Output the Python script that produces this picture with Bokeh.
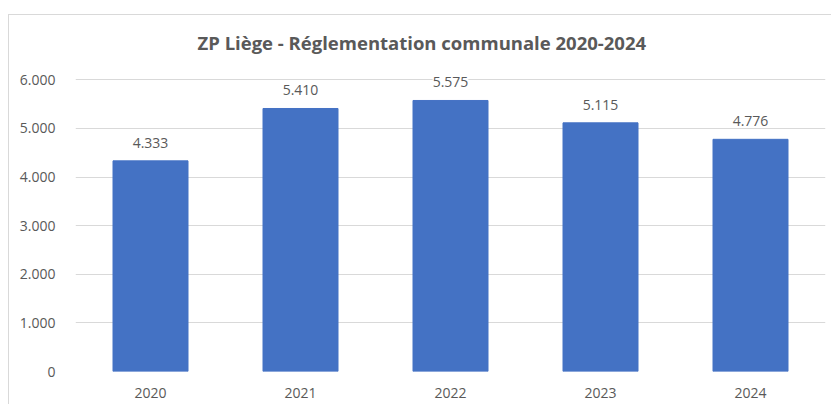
from bokeh.plotting import figure
from bokeh.models import ColumnDataSource, LabelSet, FixedTicker, CustomJSTickFormatter, Range1d
from bokeh.core.properties import value
from bokeh.embed import file_html
from bokeh.resources import INLINE

years = ["2020", "2021", "2022", "2023", "2024"]
values = [4333, 5410, 5575, 5115, 4776]
y_ticks = [0, 1000, 2000, 3000, 4000, 5000, 6000]
title_text = "ZP Liège - Réglementation communale  2020-2024"

labels = [f"{v:,}".replace(",", ".") for v in values]
src = ColumnDataSource(dict(x=years, top=values, lab=labels))

FONT = "Open Sans"
GREY = "#595959"

p = figure(x_range=years, y_range=Range1d(0, 6500), width=823, height=390,
           output_backend="svg", toolbar_location=None,
           min_border_left=66, min_border_right=7, min_border_top=40, min_border_bottom=34,
           title=title_text)
p.styles = {"margin-top": "14px", "margin-left": "8px",
            "border-top": "1px solid #d9d9d9", "border-left": "1px solid #d9d9d9"}
p.outline_line_color = None
p.background_fill_color = "white"
p.border_fill_color = "white"

p.title.align = "left"
p.title.text_font = FONT
p.title.text_font_size = "18.5px"
p.title.text_font_style = "bold"
p.title.text_color = GREY
p.title.standoff = 2
p.title.offset = 122

p.vbar(x="x", top="top", width=0.5, source=src, color="#4472c4")

ls = LabelSet(x="x", y="top", text="lab", source=src, y_offset=13, text_align="center",
              text_baseline="bottom", text_font=value(FONT), text_font_size=value("14px"),
              text_color=GREY, background_fill_color="white")
p.add_layout(ls)

p.xgrid.grid_line_color = None
p.ygrid.grid_line_color = "#d9d9d9"
p.ygrid.grid_line_width = 1

p.yaxis.ticker = FixedTicker(ticks=y_ticks)
p.yaxis.formatter = CustomJSTickFormatter(code="return tick.toFixed(0).replace(/\\B(?=(\\d{3})+(?!\\d))/g, '.');")
for ax in (p.xaxis, p.yaxis):
    ax.axis_line_color = None
    ax.major_tick_line_color = None
    ax.minor_tick_line_color = None
    ax.major_label_text_font = FONT
    ax.major_label_text_font_size = "14px"
    ax.major_label_text_color = GREY
p.yaxis.major_label_standoff = 14
p.xaxis.major_label_standoff = 10

open("out.html", "w").write(file_html(p, INLINE))
